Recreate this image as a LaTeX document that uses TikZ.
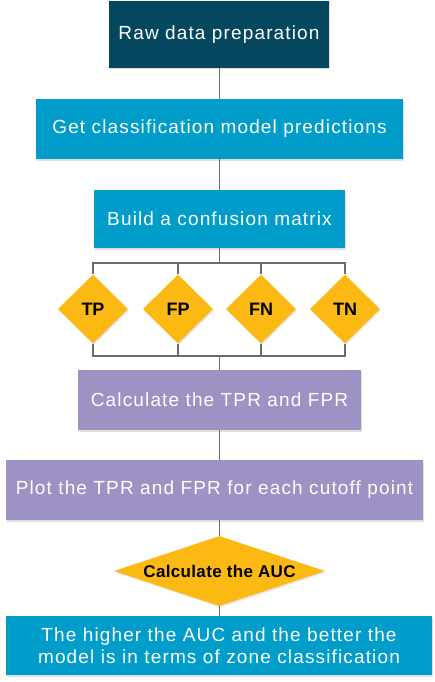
\documentclass[tikz,border=0pt]{standalone}
\usepackage{fontspec}
\setmainfont{Liberation Sans}
\usetikzlibrary{shapes.geometric,shadows}
\definecolor{darkteal}{HTML}{05475E}
\definecolor{boxblue}{HTML}{009DCB}
\definecolor{boxpurple}{HTML}{9E91C3}
\definecolor{dyellow}{HTML}{FDB913}
\definecolor{linegray}{HTML}{6B6B6B}
\tikzset{
  boxbase/.style={rectangle, inner sep=0pt, text=white,
    font=\fontsize{19}{22}\selectfont\addfontfeature{LetterSpace=6},
    drop shadow={opacity=0.25, shadow xshift=1pt, shadow yshift=-1.5pt}},
  darkbox/.style={boxbase, fill=darkteal},
  bluebox/.style={boxbase, fill=boxblue},
  purplebox/.style={boxbase, fill=boxpurple},
  ydiamond/.style={diamond, inner sep=0pt, fill=dyellow, text=black,
    font=\fontsize{17}{20}\selectfont\bfseries\addfontfeature{LetterSpace=2},
    drop shadow={opacity=0.2, shadow xshift=1pt, shadow yshift=-1.5pt}},
  smalldia/.style={ydiamond, minimum width=70pt, minimum height=69pt,
    font=\fontsize{18}{20}\selectfont\bfseries},
  conn/.style={draw=linegray, line width=1.8pt},
}
\begin{document}
\begin{tikzpicture}[x=1pt,y=-1pt]
\useasboundingbox (0,0) rectangle (434,682);
\node[darkbox, minimum width=220pt, minimum height=67pt] (b1) at (219,34.5) {Raw data preparation};
\node[bluebox, minimum width=367pt, minimum height=60pt] (b2) at (219.5,129) {Get classification model predictions};
\node[bluebox, minimum width=251pt, minimum height=58pt] (b3) at (219.5,219) {Build a confusion matrix};
\node[smalldia] (tp) at (93,309) {TP};
\node[smalldia] (fp) at (178,309) {FP};
\node[smalldia] (fn) at (261,309) {FN};
\node[smalldia] (tn) at (345,309) {TN};
\node[purplebox, minimum width=283pt, minimum height=60pt] (b4) at (219.5,400) {Calculate the TPR and FPR};
\node[purplebox, minimum width=417pt, minimum height=60pt] (b5) at (214.5,490) {Plot the TPR and FPR for each cutoff point};
\node[ydiamond, aspect=3, minimum width=211pt, minimum height=70pt] (auc) at (219.5,571) {Calculate the AUC};
\node[bluebox, minimum width=426pt, minimum height=59pt, align=center] (b6) at (219,645.5) {The higher the AUC and the better the\\model is in terms of zone classification};
\coordinate (bt) at (219.5,263);
\coordinate (bb) at (219.5,356);
\draw[conn] (b2.north -| bt) -- (b1.south -| bt);
\draw[conn] (b2.south) -- (b3.north);
\draw[conn] (b3.south) -- (bt);
\draw[conn] (tp.north) -- (tp.north |- bt) -- (tn.north |- bt) -- (tn.north);
\draw[conn] (fp.north) -- (fp.north |- bt);
\draw[conn] (fn.north) -- (fn.north |- bt);
\draw[conn] (tp.south) -- (tp.south |- bb) -- (tn.south |- bb) -- (tn.south);
\draw[conn] (fp.south) -- (fp.south |- bb);
\draw[conn] (fn.south) -- (fn.south |- bb);
\draw[conn] (bb) -- (b4.north);
\draw[conn] (b4.south) -- (b4.south |- b5.north);
\draw[conn] (auc.north) -- (auc.north |- b5.south);
\draw[conn] (auc.south) -- (auc.south |- b6.north);
\end{tikzpicture}
\end{document}
